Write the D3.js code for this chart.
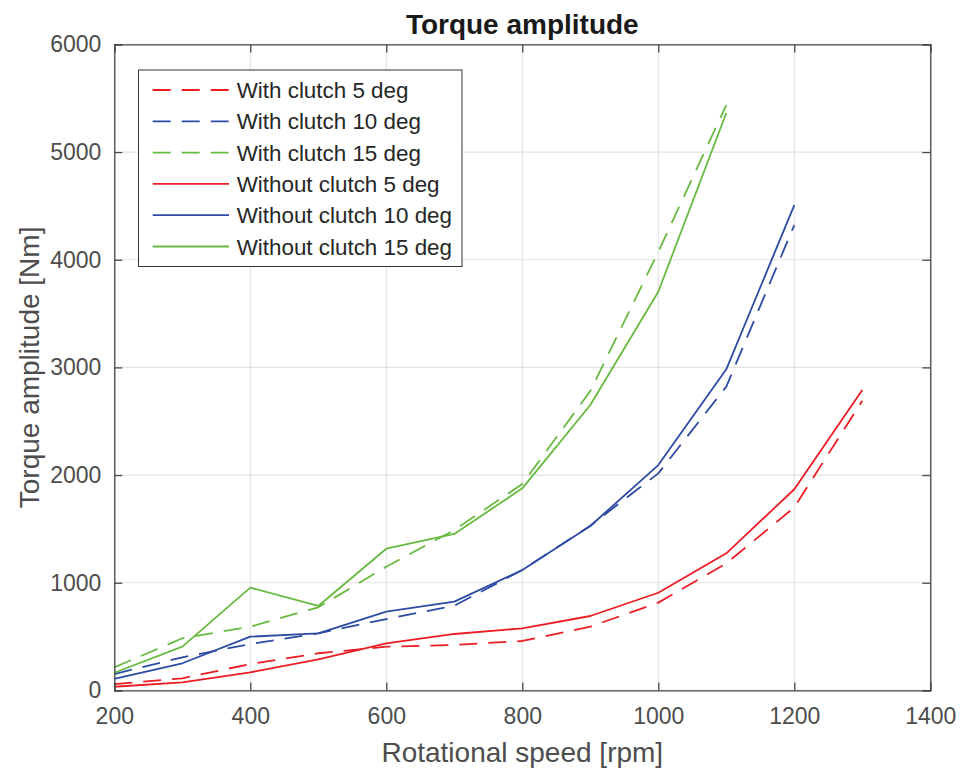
<!DOCTYPE html>
<html>
<head>
<meta charset="utf-8">
<script src="https://cdn.jsdelivr.net/npm/d3@7"></script>
<style>
  html, body { margin: 0; padding: 0; background: #fff; }
  svg { display: block; font-family: "Liberation Sans", Arial, Helvetica, sans-serif; }
</style>
</head>
<body>
<svg id="chart" width="960" height="772"></svg>
<script>
// ---- data ----
const speeds5 = [200, 300, 400, 500, 600, 700, 800, 900, 1000, 1100, 1200, 1300];
const speeds10 = [200, 300, 400, 500, 600, 700, 800, 900, 1000, 1100, 1200];
const speeds15 = [200, 300, 400, 500, 600, 700, 800, 900, 1000, 1100];

const withClutch5 = [59, 112, 245, 345, 406, 422, 459, 592, 815, 1180, 1700, 2691];
const withClutch10 = [152, 307, 431, 530, 663, 787, 1118, 1530, 2016, 2821, 4322];
const withClutch15 = [214, 484, 592, 772, 1149, 1490, 1917, 2780, 4074, 5437];
const withoutClutch5 = [34, 75, 168, 289, 437, 524, 577, 691, 907, 1273, 1868, 2790];
const withoutClutch10 = [106, 252, 499, 530, 731, 824, 1118, 1527, 2093, 2982, 4508];
const withoutClutch15 = [164, 406, 954, 784, 1316, 1453, 1877, 2651, 3703, 5363];

const seriesNames = ["With clutch 5 deg", "With clutch 10 deg", "With clutch 15 deg",
  "Without clutch 5 deg", "Without clutch 10 deg", "Without clutch 15 deg"];

const xTicks = [200, 400, 600, 800, 1000, 1200, 1400];
const yTicks = [0, 1000, 2000, 3000, 4000, 5000, 6000];

const chartTitle = "Torque amplitude";
const xLabel = "Rotational speed [rpm]";
const yLabel = "Torque amplitude [Nm]";

// ---- styles ----
const RED = "#ec1c24", BLUE = "#2d4ba3", GREEN = "#67ba40";
const series = [
  { name: seriesNames[0], x: speeds5, y: withClutch5, color: RED, dash: "18,11" },
  { name: seriesNames[1], x: speeds10, y: withClutch10, color: BLUE, dash: "18,11" },
  { name: seriesNames[2], x: speeds15, y: withClutch15, color: GREEN, dash: "18,11" },
  { name: seriesNames[3], x: speeds5, y: withoutClutch5, color: RED, dash: null },
  { name: seriesNames[4], x: speeds10, y: withoutClutch10, color: BLUE, dash: null },
  { name: seriesNames[5], x: speeds15, y: withoutClutch15, color: GREEN, dash: null }
];

const svg = d3.select("#chart");
const L = 114.3, R = 930.3, T = 44.4, B = 690.4;

const x = d3.scaleLinear().domain([200, 1400]).range([L, R]);
const y = d3.scaleLinear().domain([0, 6000]).range([B, T]);

// grid
const grid = svg.append("g");
grid.selectAll(".gx").data(xTicks).enter().append("line")
  .attr("x1", d => x(d)).attr("x2", d => x(d)).attr("y1", T).attr("y2", B)
  .attr("stroke", "#e3e3e3").attr("stroke-width", 1.2);
grid.selectAll(".gy").data(yTicks).enter().append("line")
  .attr("x1", L).attr("x2", R).attr("y1", d => y(d)).attr("y2", d => y(d))
  .attr("stroke", "#e3e3e3").attr("stroke-width", 1.2);

// lines
const line = d3.line().x(d => x(d[0])).y(d => y(d[1]));
series.forEach(s => {
  svg.append("path")
    .datum(s.x.map((v, i) => [v, s.y[i]]))
    .attr("d", line)
    .attr("fill", "none")
    .attr("stroke", s.color)
    .attr("stroke-width", 1.8)
    .attr("stroke-dasharray", s.dash)
    .attr("stroke-linejoin", "round");
});

// axes
const axColor = "#4a4a4a";
const tickLen = 8;
const xAxisB = d3.axisBottom(x).tickValues(xTicks).tickSize(-tickLen).tickPadding(16).tickFormat(d3.format("d"));
const xAxisT = d3.axisTop(x).tickValues(xTicks).tickSize(-tickLen).tickFormat("");
const yAxisL = d3.axisLeft(y).tickValues(yTicks).tickSize(-tickLen).tickPadding(13).tickFormat(d3.format("d"));
const yAxisR = d3.axisRight(y).tickValues(yTicks).tickSize(-tickLen).tickFormat("");

function styleAxis(g) {
  g.select(".domain").attr("stroke", axColor).attr("stroke-width", 1.3);
  g.selectAll(".tick line").attr("stroke", axColor).attr("stroke-width", 1.3);
  g.selectAll(".tick text").attr("fill", "#4d4d4d").attr("font-size", 23)
    .attr("font-family", "Liberation Sans, Arial, sans-serif");
}
svg.append("g").attr("transform", `translate(0,${B})`).call(xAxisB).call(styleAxis)
  .selectAll(".tick text").attr("dy", "0.75em");
svg.append("g").attr("transform", `translate(0,${T})`).call(xAxisT).call(styleAxis);
svg.append("g").attr("transform", `translate(${L},0)`).call(yAxisL).call(styleAxis);
svg.append("g").attr("transform", `translate(${R},0)`).call(yAxisR).call(styleAxis);

// title & labels
svg.append("text").attr("x", (L + R) / 2).attr("y", 34)
  .attr("text-anchor", "middle").attr("font-size", 28).attr("font-weight", "bold")
  .attr("fill", "#1a1a1a").text(chartTitle);
svg.append("text").attr("x", (L + R) / 2).attr("y", 762)
  .attr("text-anchor", "middle").attr("font-size", 28).attr("fill", "#4d4d4d").text(xLabel);
svg.append("text").attr("transform", `translate(39,${(T + B) / 2}) rotate(-90)`)
  .attr("text-anchor", "middle").attr("font-size", 28).attr("fill", "#4d4d4d").text(yLabel);

// legend
const lg = svg.append("g");
lg.append("rect").attr("x", 138.5).attr("y", 70).attr("width", 323.5).attr("height", 196.5)
  .attr("fill", "#fff").attr("stroke", "#333").attr("stroke-width", 1);
series.forEach((s, i) => {
  const cy = 90 + i * 31.3;
  lg.append("line").attr("x1", 152.7).attr("x2", 229).attr("y1", cy).attr("y2", cy)
    .attr("stroke", s.color).attr("stroke-width", 1.8).attr("stroke-dasharray", s.dash);
  lg.append("text").attr("x", 236.7).attr("y", cy).attr("dy", "0.36em")
    .attr("font-size", 22.4).attr("fill", "#262626").text(s.name);
});
</script>
</body>
</html>
